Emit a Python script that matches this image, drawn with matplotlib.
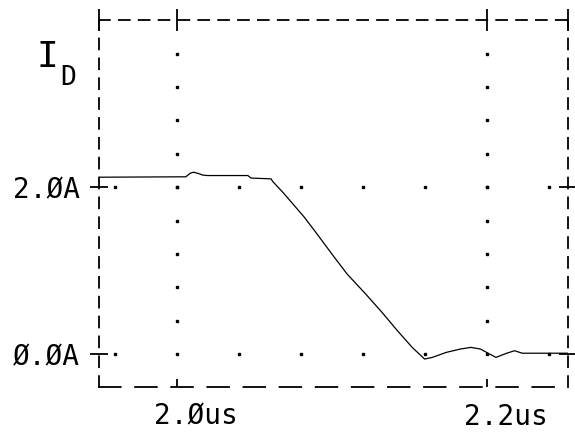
#!/usr/bin/env python3
"""
Drain current I_D during turn-off, plotter-style probe trace.
Writes out.png (575x432).
"""

import numpy as np
import matplotlib
matplotlib.use('Agg')
import matplotlib.pyplot as plt
from matplotlib.transforms import ScaledTranslation

# ── trace samples (time in us, current in A) ────────────────────────────────

TIME_US = [1.950, 2.006, 2.009, 2.011, 2.014, 2.017, 2.020, 2.046, 2.048,
           2.061, 2.062, 2.069, 2.082, 2.089, 2.101, 2.110, 2.122, 2.133,
           2.142, 2.152, 2.160, 2.165, 2.174, 2.183, 2.190, 2.196, 2.201,
           2.206, 2.213, 2.218, 2.223, 2.2525]
I_D_AMP = [2.12, 2.125, 2.17, 2.18, 2.165, 2.145, 2.14, 2.14, 2.11,
           2.10, 2.07, 1.93, 1.65, 1.48, 1.18, 0.96, 0.72, 0.49,
           0.29, 0.08, -0.06, -0.04, 0.02, 0.06, 0.08, 0.06, 0.01,
           -0.04, 0.01, 0.04, 0.01, 0.01]

XTICKS       = [2.0, 2.2]
XTICK_LABELS = ['2.Øus', '2.2us']
YTICKS       = [0.0, 2.0]
YTICK_LABELS = ['Ø.ØA', '2.ØA']

XLIM = (1.950, 2.2525)
YLIM = (-0.4, 4.0)
DOT_DX = 0.04   # dot spacing along the horizontal grid lines
DOT_DY = 0.4    # dot spacing along the vertical grid lines


def make_figure():
    plt.rcParams.update({
        'font.family': 'DejaVu Sans Mono',
        'font.size':   20,
    })

    fig = plt.figure(figsize=(5.75, 4.32), dpi=100)
    ax = fig.add_axes([0.1722, 0.1032, 0.8156, 0.8496])
    ax.set_xlim(*XLIM)
    ax.set_ylim(*YLIM)

    # trace
    ax.plot(TIME_US, I_D_AMP, color='black', linewidth=0.9, zorder=3)

    # dotted grid lines through the major ticks
    gx = np.arange(XTICKS[0] - DOT_DX, XLIM[1], DOT_DX)
    for y in YTICKS:
        ax.plot(gx, np.full_like(gx, y), linestyle='none', marker='s',
                markersize=1.5, color='black', zorder=2)
    gy = np.arange(YTICKS[0] + DOT_DY, YLIM[1] - 0.01, DOT_DY)
    for x in XTICKS:
        ax.plot(np.full_like(gy, x), gy, linestyle='none', marker='s',
                markersize=1.5, color='black', zorder=2)

    # dashed frame
    for side in ('left', 'right', 'top'):
        ax.spines[side].set_linestyle((0, (6, 5)))
        ax.spines[side].set_linewidth(1.3)
    ax.spines['bottom'].set_linestyle((0, (12, 8)))
    ax.spines['bottom'].set_linewidth(1.3)

    ax.set_xticks(XTICKS)
    ax.set_xticklabels(XTICK_LABELS)
    ax.set_yticks(YTICKS)
    ax.set_yticklabels(YTICK_LABELS)
    ax.tick_params(axis='x', direction='in', length=6, width=1.3, pad=11)
    ax.tick_params(axis='y', direction='inout', length=13, width=1.3,
                   pad=7, left=True, right=True)

    # x labels sit a little right of their ticks
    shift = ScaledTranslation(19 / 100, 0, fig.dpi_scale_trans)
    for lab in ax.get_xticklabels():
        lab.set_transform(lab.get_transform() + shift)

    # crosses along the top edge, including both corners
    top = ax.secondary_xaxis('top')
    top.set_xticks([XLIM[0]] + XTICKS + [XLIM[1]])
    top.set_xticklabels([])
    top.tick_params(direction='inout', length=16, width=1.3)
    top.spines['top'].set_visible(False)

    # axis name
    fig.text(0.064, 0.845, 'I', fontsize=26, ha='left', va='baseline')
    fig.text(0.104, 0.803, 'D', fontsize=19, ha='left', va='baseline')

    return fig


def main():
    fig = make_figure()
    fig.savefig('out.png', dpi=100)
    plt.close(fig)


if __name__ == '__main__':
    main()
